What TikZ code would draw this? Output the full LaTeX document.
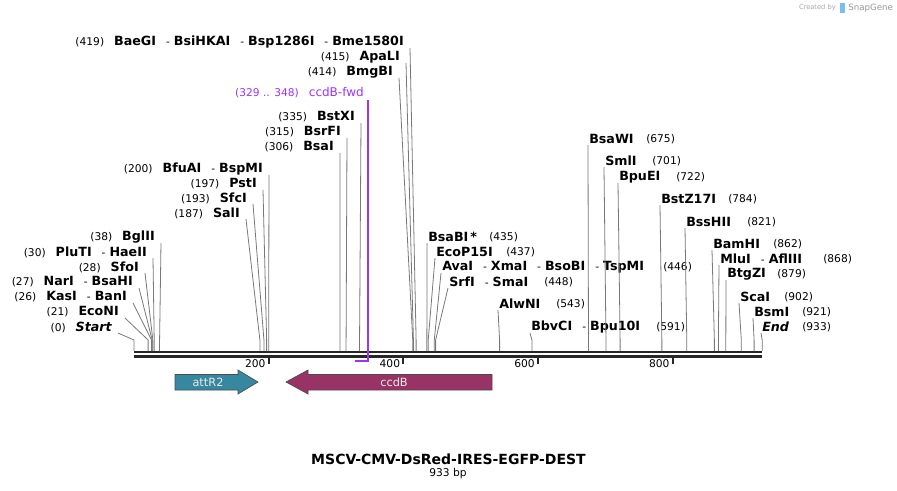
\documentclass[tikz,border=0pt]{standalone}
\usepackage{fontspec}
\setmainfont{DejaVu Sans}
\usepackage{tikz}
\usetikzlibrary{calc}

\definecolor{cutgray}{RGB}{120,120,120}
\definecolor{primerviolet}{RGB}{153,51,255}
\definecolor{attteal}{RGB}{54,135,160}
\definecolor{ccdbplum}{RGB}{153,51,102}
\definecolor{snapblue}{RGB}{120,190,240}

\newcommand{\enz}[1]{{\fontsize{9.5}{11}\selectfont\bfseries #1}}
\newcommand{\enzsep}{\hspace{7.5pt}-\hspace{3pt}}
\newcommand{\numgap}{\hspace{7.5pt}}

\tikzset{
  sitelbl/.style = {inner sep=0pt, font=\fontsize{8}{9}\selectfont},
  cutline/.style = {draw=cutgray, line width=0.6pt},
  seqline/.style = {line width=1.9pt, black!85},
  feat/.style = {draw=black!70, line width=0.5pt},
  featlbl/.style = {inner sep=0pt, text=white!92!black, font=\fontsize{8.5}{10}\selectfont}
}

\begin{document}
\begin{tikzpicture}[x=0.75pt, y=-0.75pt]
\useasboundingbox (0,0) rectangle (897,490);

% sequence line and ruler
\draw[seqline] (134,352) coordinate (seqA) -- (762,352) coordinate (seqB);
\draw[seqline] (134,356.3) coordinate (seqC) -- (762,356.3) coordinate (seqD);
\foreach \t in {200, 400, 600, 800} {
	\pgfmathsetmacro\xt{134+0.6733*\t}
	\draw[line width=1.5pt, black!85] (\xt,357) coordinate (tk\t) -- (\xt,364);
	\node[sitelbl, anchor=east] (tl\t) at (\xt-3,364) {\t};
}

% sites labelled on the left
\foreach \p/\y/\xe/\txt in {
	419/42/404/{(419)\numgap\enz{BaeGI}\enzsep\enz{BsiHKAI}\enzsep\enz{Bsp1286I}\enzsep\enz{Bme1580I}},
	415/57/400/{(415)\numgap\enz{ApaLI}},
	414/72/393/{(414)\numgap\enz{BmgBI}},
	335/117/355/{(335)\numgap\enz{BstXI}},
	315/132/341/{(315)\numgap\enz{BsrFI}},
	306/147/334/{(306)\numgap\enz{BsaI}},
	200/169/263/{(200)\numgap\enz{BfuAI}\enzsep\enz{BspMI}},
	197/184/257/{(197)\numgap\enz{PstI}},
	193/198/247/{(193)\numgap\enz{SfcI}},
	187/213/240/{(187)\numgap\enz{SalI}},
	38/237/155/{(38)\numgap\enz{BglII}},
	30/252/147/{(30)\numgap\enz{PluTI}\enzsep\enz{HaeII}},
	28/267/139/{(28)\numgap\enz{SfoI}},
	27/282/133/{(27)\numgap\enz{NarI}\enzsep\enz{BsaHI}},
	26/297/127/{(26)\numgap\enz{KasI}\enzsep\enz{BanI}},
	21/312/119/{(21)\numgap\enz{EcoNI}},
	0/327/112/{(0)\numgap\enz{\itshape Start}}} {
	\pgfmathsetmacro\xp{134+0.6733*\p}
	\coordinate (s\p) at (\xp,351);
	\node[sitelbl, anchor=east] (lft\p) at (\xe,\y) {\txt};
	\draw[cutline] ($(lft\p.east)+(6,6)$) -- (\xp,340) -- (s\p);
}

% sites labelled on the right
\foreach \p/\y/\xw/\xn/\txt in {
	435/237/428/489/{\enz{BsaBI\,*}},
	437/252/436/506/{\enz{EcoP15I}},
	446/267/442/663/{\enz{AvaI}\enzsep\enz{XmaI}\enzsep\enz{BsoBI}\enzsep\enz{TspMI}},
	448/282/449/544/{\enz{SrfI}\enzsep\enz{SmaI}},
	543/304/499/556/{\enz{AlwNI}},
	591/327/531/656/{\enz{BbvCI}\enzsep\enz{Bpu10I}},
	675/139/589/646/{\enz{BsaWI}},
	701/161/605/652/{\enz{SmlI}},
	722/177/619/676/{\enz{BpuEI}},
	784/199/661/728/{\enz{BstZ17I}},
	821/222/686/747/{\enz{BssHII}},
	862/244/713/773/{\enz{BamHI}},
	868/259/720/823/{\enz{MluI}\enzsep\enz{AflIII}},
	879/274/727/777/{\enz{BtgZI}},
	902/297/740/784/{\enz{ScaI}},
	921/312/754/802/{\enz{BsmI}},
	933/327/762/802/{\enz{\itshape End}}} {
	\pgfmathsetmacro\xp{134+0.6733*\p}
	\coordinate (s\p) at (\xp,351);
	\node[sitelbl, anchor=west] (rgt\p) at (\xw,\y) {\txt};
	\node[sitelbl, anchor=west] (rn\p) at (\xn,\y) {(\p)};
	\draw[cutline] ($(rgt\p.west)+(-1,6)$) -- (\xp,340) -- (s\p);
}

% primer
\node[sitelbl, text=primerviolet, anchor=east] (fwd) at (364,93) {(329 .. 348)\numgap{\fontsize{9}{10}\selectfont ccdB-fwd}};
\coordinate (fwdA) at (368,100);
\coordinate (fwdB) at (368,361);
\coordinate (fwdC) at (355,361);
\draw[primerviolet, line width=1pt] (fwdA) -- (fwdB) -- (fwdC);

% features
\draw[feat, fill=attteal] (175,374.5) -- (238,374.5) -- (238,370) -- (258,382) -- (238,394) -- (238,390) -- (175,390) -- cycle;
\node[featlbl] (attR2) at (208,382) {attR2};
\draw[feat, fill=ccdbplum] (492,374.5) -- (308,374.5) -- (308,370) -- (286,382) -- (308,394) -- (308,390) -- (492,390) -- cycle;
\node[featlbl] (ccdB) at (394,382) {ccdB};

% title
\node[inner sep=0pt, font=\fontsize{10.5}{12}\selectfont\bfseries] (title) at (448.5,459) {MSCV-CMV-DsRed-IRES-EGFP-DEST};
\node[inner sep=0pt, font=\fontsize{8}{9}\selectfont] (bp) at (448,474) {933 bp};

% watermark
\node[inner sep=0pt, anchor=east, text=black!35, font=\fontsize{5}{6}\selectfont] (made) at (836,8) {Created by};
\fill[snapblue] (840,3) rectangle (845,13);
\node[inner sep=0pt, anchor=west, text=black!40, font=\fontsize{6.5}{7}\selectfont] (snap) at (848,8) {SnapGene};
\end{tikzpicture}
\end{document}
